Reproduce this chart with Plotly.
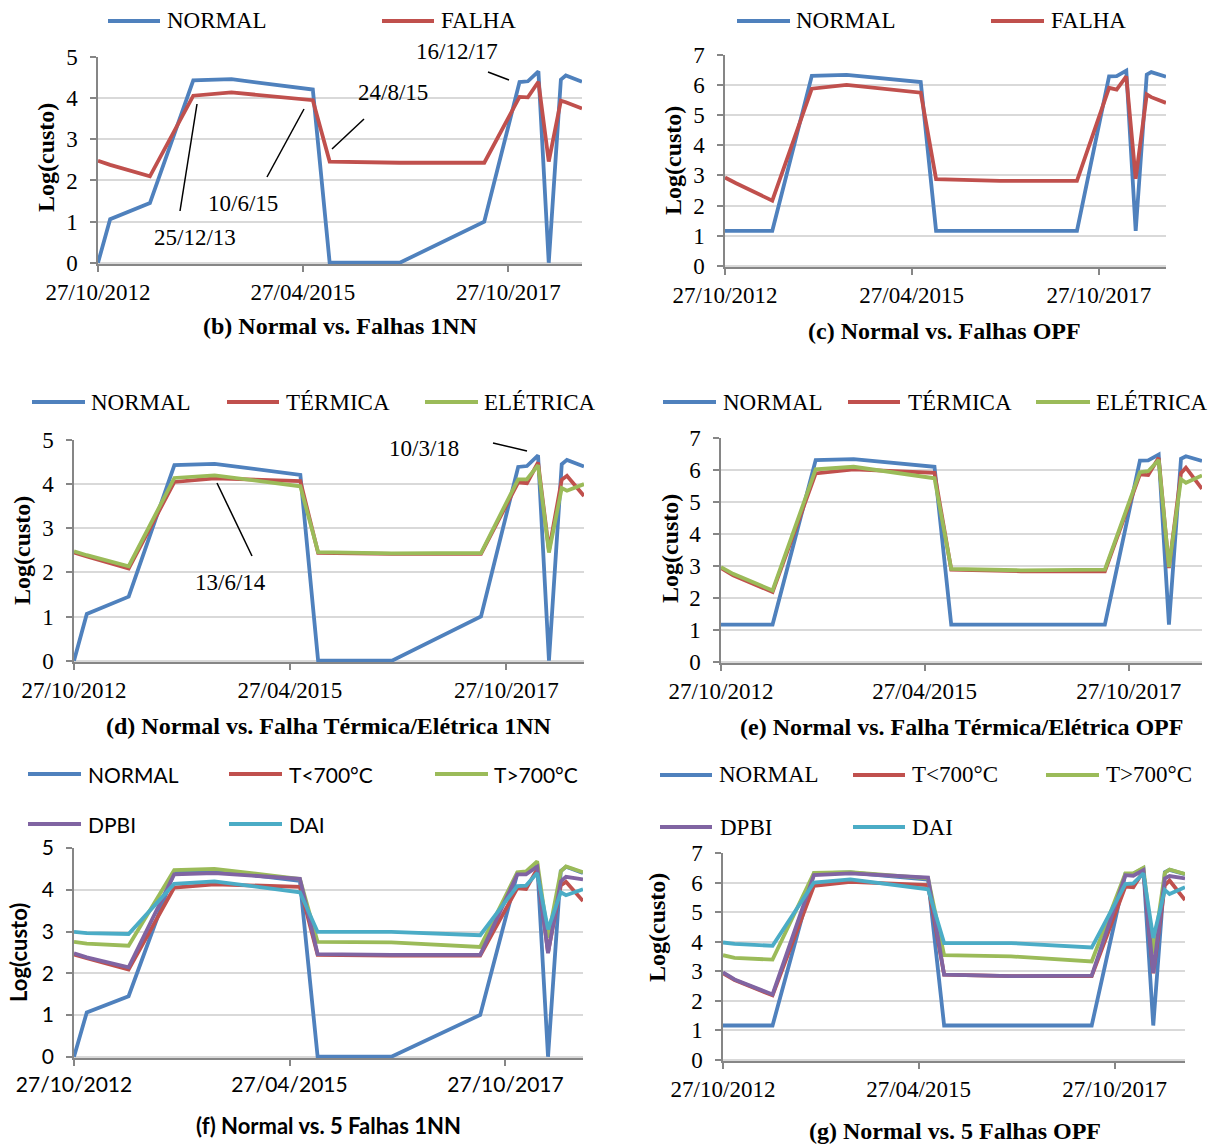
import plotly.graph_objects as go

W, H = 1216, 1144

# ---- data -----------------------------------------------------------------
dates = ["2012-10-27", "2012-12-20", "2013-06-15", "2013-12-25", "2014-06-13",
         "2015-06-10", "2015-08-24", "2016-07-01", "2017-07-12", "2017-12-16",
         "2018-01-22", "2018-03-10", "2018-04-25", "2018-06-18", "2018-07-10",
         "2018-09-20"]

# 1NN classifier
normal_1nn = [0.00, 1.06, 1.45, 4.43, 4.46, 4.21, 0.00, 0.00, 1.00, 4.39, 4.41, 4.65, 0.00, 4.45, 4.55, 4.40]
falha_1nn = [2.48, 2.38, 2.10, 4.06, 4.14, 3.95, 2.46, 2.43, 2.43, 4.03, 4.02, 4.40, 2.46, 3.94, 3.90, 3.75]
termica_1nn = [2.45, 2.36, 2.09, 4.05, 4.13, 4.07, 2.44, 2.42, 2.42, 4.04, 4.02, 4.49, 2.50, 4.10, 4.19, 3.73]
eletrica_1nn = [2.48, 2.39, 2.14, 4.14, 4.20, 3.95, 2.46, 2.43, 2.44, 4.11, 4.11, 4.43, 2.45, 3.91, 3.85, 4.00]
t_high_1nn = [2.75, 2.71, 2.66, 4.47, 4.50, 4.26, 2.75, 2.74, 2.63, 4.42, 4.44, 4.68, 2.85, 4.44, 4.56, 4.42]
dpbi_1nn = [2.48, 2.38, 2.14, 4.37, 4.40, 4.26, 2.46, 2.44, 2.44, 4.37, 4.37, 4.55, 2.48, 4.20, 4.31, 4.25]
dai_1nn = [2.99, 2.96, 2.94, 4.14, 4.20, 3.94, 2.99, 2.99, 2.91, 4.09, 4.10, 4.40, 3.05, 3.94, 3.87, 4.01]

# OPF classifier
normal_opf = [1.16, 1.16, 1.16, 6.31, 6.34, 6.10, 1.16, 1.16, 1.16, 6.29, 6.30, 6.48, 1.16, 6.35, 6.43, 6.28]
falha_opf = [2.93, 2.74, 2.16, 5.88, 6.01, 5.75, 2.88, 2.82, 2.82, 5.91, 5.85, 6.29, 2.89, 5.69, 5.60, 5.41]
termica_opf = [2.93, 2.70, 2.18, 5.89, 6.02, 5.91, 2.88, 2.83, 2.83, 5.86, 5.84, 6.38, 2.93, 5.90, 6.07, 5.41]
eletrica_opf = [2.96, 2.75, 2.23, 6.02, 6.10, 5.74, 2.90, 2.86, 2.88, 5.93, 5.96, 6.31, 2.96, 5.71, 5.60, 5.83]
t_high_opf = [3.54, 3.45, 3.39, 6.33, 6.35, 6.14, 3.54, 3.50, 3.33, 6.31, 6.31, 6.50, 3.60, 6.33, 6.44, 6.29]
dpbi_opf = [2.96, 2.72, 2.21, 6.25, 6.31, 6.17, 2.88, 2.83, 2.85, 6.25, 6.23, 6.42, 2.94, 6.14, 6.22, 6.14]
dai_opf = [3.97, 3.92, 3.86, 6.00, 6.11, 5.77, 3.95, 3.95, 3.80, 5.95, 5.97, 6.31, 4.12, 5.75, 5.61, 5.84]

x_ticks_step = "M30"
y_title = "Log(custo)"

# ---- styling ----------------------------------------------------------------
BLUE, RED, GREEN, PURPLE, CYAN = "#4F81BD", "#C0504D", "#9BBB59", "#8064A2", "#4BACC6"
SERIF = "Liberation Serif, Times New Roman, serif"
SANS = "Lato, Open Sans, sans-serif"
AXIS_GRAY = "#868686"
GRID_GRAY = "#D9D9D9"
LW = 3.8


def fx(px):
    return px / W


def fy(py):
    return 1 - py / H


# panel layout: plot box in pixels (left, right, top gridline, zero line)
panels = [
    dict(key="b", box=(98, 582, 57, 264), ymax=5, font=SERIF,
         series=[("NORMAL", normal_1nn, BLUE), ("FALHA", falha_1nn, RED)],
         legend=[[(108, 160, 165, 21), (382, 434, 439, 21)]],
         caption="(b) Normal vs. Falhas 1NN", cap=(340, 326), ytitle=(46, 158)),
    dict(key="c", box=(725, 1166, 55, 267), ymax=7, font=SERIF,
         series=[("NORMAL", normal_opf, BLUE), ("FALHA", falha_opf, RED)],
         legend=[[(737, 790, 794, 21), (991, 1044, 1049, 21)]],
         caption="(c) Normal vs. Falhas OPF", cap=(944, 331), ytitle=(673, 161)),
    dict(key="d", box=(74, 584, 440, 662), ymax=5, font=SERIF,
         series=[("NORMAL", normal_1nn, BLUE), ("TÉRMICA", termica_1nn, RED),
                 ("ELÉTRICA", eletrica_1nn, GREEN)],
         legend=[[(32, 85, 89, 402), (227, 279, 284, 402), (425, 478, 482, 402)]],
         caption="(d) Normal vs. Falha Térmica/Elétrica 1NN", cap=(329, 726), ytitle=(22, 551)),
    dict(key="e", box=(721, 1202, 438, 663), ymax=7, font=SERIF,
         series=[("NORMAL", normal_opf, BLUE), ("TÉRMICA", termica_opf, RED),
                 ("ELÉTRICA", eletrica_opf, GREEN)],
         legend=[[(663, 716, 721, 402), (848, 900, 906, 402), (1036, 1090, 1094, 402)]],
         caption="(e) Normal vs. Falha Térmica/Elétrica OPF", cap=(961, 727), ytitle=(670, 549)),
    dict(key="f", box=(74, 583, 848, 1058), ymax=5, font=SANS,
         series=[("NORMAL", normal_1nn, BLUE), ("T<700°C", termica_1nn, RED),
                 ("T>700°C", t_high_1nn, GREEN), ("DPBI", dpbi_1nn, PURPLE),
                 ("DAI", dai_1nn, CYAN)],
         legend=[[(28, 81, 86, 774), (229, 282, 287, 774), (435, 488, 492, 774)],
                 [(28, 81, 86, 824), (229, 282, 287, 824)]],
         caption="(f) Normal vs. 5 Falhas 1NN", cap=(328, 1125), ytitle=(18, 953)),
    dict(key="g", box=(723, 1185, 853, 1061), ymax=7, font=SERIF,
         series=[("NORMAL", normal_opf, BLUE), ("T<700°C", termica_opf, RED),
                 ("T>700°C", t_high_opf, GREEN), ("DPBI", dpbi_opf, PURPLE),
                 ("DAI", dai_opf, CYAN)],
         legend=[[(660, 712, 717, 775), (853, 905, 910, 775), (1046, 1099, 1104, 775)],
                 [(660, 712, 718, 827), (853, 905, 910, 827)]],
         caption="(g) Normal vs. 5 Falhas OPF", cap=(955, 1131), ytitle=(657, 928)),
]

FS = 23        # serif text size
FS_SANS = 21   # sans text size
FS_BOLD = 24   # captions and axis titles (serif)
FS_BOLD_SANS = 22

fig = go.Figure()
layout = dict(width=W, height=H, margin=dict(l=0, r=0, t=0, b=0),
              paper_bgcolor="white", plot_bgcolor="white", showlegend=False)
shapes, annotations = [], []

for i, p in enumerate(panels, start=1):
    sfx = "" if i == 1 else str(i)
    left, right, top, zero = p["box"]
    sans = p["font"] == SANS
    fs = FS_SANS if sans else FS
    fsb = FS_BOLD_SANS if sans else FS_BOLD
    tfont = dict(family=p["font"], size=fs, color="black")
    ymax = p["ymax"]
    pad = 0.03 * ymax / 5

    layout["xaxis" + sfx] = dict(
        domain=[fx(left), fx(right)], anchor="y" + sfx, type="date",
        range=[dates[0], dates[-1]], tick0=dates[0], dtick=x_ticks_step,
        tickformat="%d/%m/%Y", showgrid=False, zeroline=False,
        showline=True, linecolor=AXIS_GRAY, linewidth=1.5,
        ticks="outside", ticklen=6, tickcolor=AXIS_GRAY, tickwidth=1.5,
        tickfont=dict(tfont), ticklabelstandoff=1, automargin=False, fixedrange=True)
    layout["yaxis" + sfx] = dict(
        domain=[fy(zero), fy(top)], anchor="x" + sfx,
        range=[-pad, ymax], tick0=0, dtick=1, showgrid=True, gridcolor=GRID_GRAY,
        gridwidth=1.5, zeroline=False, showline=True, linecolor=AXIS_GRAY,
        linewidth=1.5, ticks="outside", ticklen=6, tickcolor=AXIS_GRAY,
        tickwidth=1.5, tickfont=dict(tfont), ticklabelstandoff=8, automargin=False,
        fixedrange=True)

    for name, vals, color in p["series"]:
        fig.add_trace(go.Scatter(
            x=dates, y=vals, mode="lines", name=name,
            line=dict(color=color, width=LW), xaxis="x" + sfx, yaxis="y" + sfx,
            hoverinfo="x+y+name"))

    # legend rows drawn as sample strokes plus labels
    flat = [e for row in p["legend"] for e in row]
    for (name, _, color), (x0, x1, tx, yc) in zip(p["series"], flat):
        shapes.append(dict(type="line", xref="paper", yref="paper",
                           x0=fx(x0), x1=fx(x1), y0=fy(yc), y1=fy(yc),
                           line=dict(color=color, width=4)))
        annotations.append(dict(text=name, xref="paper", yref="paper",
                                x=fx(tx), y=fy(yc), xanchor="left", yanchor="middle",
                                showarrow=False, font=dict(tfont)))

    annotations.append(dict(text="<b>%s</b>" % p["caption"], xref="paper", yref="paper",
                            x=fx(p["cap"][0]), y=fy(p["cap"][1]), xanchor="center",
                            yanchor="middle", showarrow=False,
                            font=dict(family=p["font"], size=fsb, color="black")))
    annotations.append(dict(text="<b>%s</b>" % y_title, xref="paper", yref="paper",
                            x=fx(p["ytitle"][0]), y=fy(p["ytitle"][1]), xanchor="center",
                            yanchor="middle", textangle=-90, showarrow=False,
                            font=dict(family=p["font"], size=fsb, color="black")))

# date callouts: (label, text centre, leader line start, leader line end)
callouts = [
    ("25/12/13", (195, 237), (180, 211), (197, 104)),
    ("10/6/15", (243, 203), (267, 177), (304, 109)),
    ("24/8/15", (393, 92), (332, 149), (364, 119)),
    ("16/12/17", (457, 52), (488, 72), (509, 80)),
    ("13/6/14", (230, 582), (217, 483), (252, 556)),
    ("10/3/18", (424, 448), (493, 443), (527, 451)),
]
for label, (tx, ty), (x0, y0), (x1, y1) in callouts:
    annotations.append(dict(text=label, xref="paper", yref="paper", x=fx(tx), y=fy(ty),
                            xanchor="center", yanchor="middle", showarrow=False,
                            font=dict(family=SERIF, size=FS, color="black")))
    shapes.append(dict(type="line", xref="paper", yref="paper",
                       x0=fx(x0), y0=fy(y0), x1=fx(x1), y1=fy(y1),
                       line=dict(color="black", width=1.5)))

layout["shapes"] = shapes
layout["annotations"] = annotations
fig.update_layout(**layout)

fig.write_html("out.html")
